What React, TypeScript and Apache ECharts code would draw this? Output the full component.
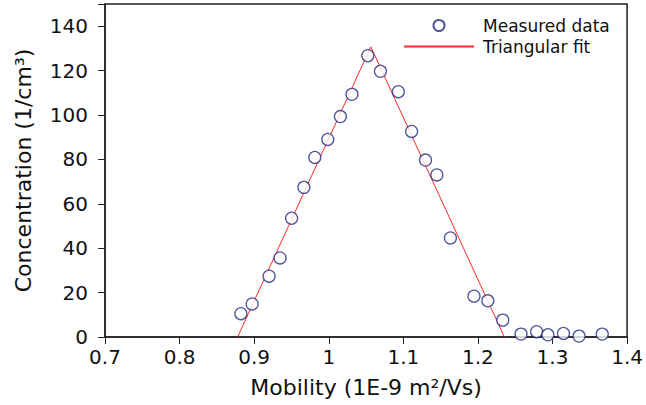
import React, { useEffect, useRef } from "react";
import * as echarts from "echarts";

const mobility = [
  0.8822, 0.8973, 0.92, 0.9347, 0.9502, 0.9667, 0.9813, 0.9987, 1.0156, 1.0311,
  1.0524, 1.0693, 1.0933, 1.1111, 1.1297, 1.1449, 1.1631, 1.1947, 1.2133, 1.2333,
  1.2578, 1.2787, 1.2938, 1.3147, 1.3356, 1.3667,
];
const concentration = [
  10.5, 14.9, 27.4, 35.6, 53.5, 67.4, 80.9, 89.0, 99.3, 109.3,
  126.7, 119.7, 110.5, 92.6, 79.7, 73.0, 44.6, 18.4, 16.3, 7.6,
  1.3, 2.4, 1.0, 1.6, 0.4, 1.3,
];
const fitX = [0.8778, 1.0564, 1.2355];
const fitY = [0, 130.7, 0];

const FONT = "DejaVu Sans";

export default function App() {
  const ref = useRef<HTMLDivElement>(null);
  useEffect(() => {
    if (!ref.current) return;
    const chart = echarts.init(ref.current, null, { renderer: "svg" });
    chart.setOption({
      animation: false,
      backgroundColor: "#fff",
      textStyle: { fontFamily: FONT },
      grid: {
        left: 105,
        right: 16,
        top: 4,
        bottom: 68,
        show: true,
        borderColor: "#222",
        borderWidth: 1.5,
        backgroundColor: "transparent",
      },
      legend: {
        orient: "vertical",
        left: 398,
        top: 12,
        itemWidth: 70,
        itemHeight: 11,
        itemGap: 4,
        textStyle: { fontFamily: FONT, fontSize: 17, color: "#111", padding: [0, 0, 0, 4] },
        data: [
          { name: "Measured data" },
          { name: "Triangular fit", itemStyle: { opacity: 0 } },
        ],
      },
      xAxis: {
        type: "value",
        min: 0.7,
        max: 1.4,
        interval: 0.1,
        name: "Mobility (1E-9 m²/Vs)",
        nameLocation: "middle",
        nameGap: 39,
        nameTextStyle: { fontFamily: FONT, fontSize: 22, color: "#111" },
        axisLine: { show: true, lineStyle: { color: "#222", width: 1.5 } },
        axisTick: { show: true, inside: false, length: 7, lineStyle: { color: "#222" } },
        axisLabel: {
          fontFamily: FONT,
          fontSize: 20,
          color: "#111",
          margin: 10,
          formatter: (v: number) => String(Math.round(v * 10) / 10),
        },
        splitLine: { show: false },
      },
      yAxis: {
        type: "value",
        min: 0,
        max: 150,
        interval: 20,
        name: "Concentration (1/cm³)",
        nameLocation: "middle",
        nameGap: 71,
        nameTextStyle: { fontFamily: FONT, fontSize: 22, color: "#111" },
        axisLine: { show: true, lineStyle: { color: "#222", width: 1.5 } },
        axisTick: { show: true, inside: false, length: 7, lineStyle: { color: "#222" } },
        axisLabel: {
          fontFamily: FONT,
          fontSize: 20,
          color: "#111",
          margin: 17,
          formatter: (v: number) => (v > 140 ? "" : String(v)),
        },
        splitLine: { show: false },
      },
      series: [
        {
          name: "Triangular fit",
          type: "line",
          data: fitX.map((x, i) => [x, fitY[i]]),
          showSymbol: false,
          symbol: "none",
          lineStyle: { color: "#ff2a2a", width: 1 },
          itemStyle: { color: "#ff2a2a" },
          z: 2,
        },
        {
          name: "Measured data",
          type: "scatter",
          data: mobility.map((x, i) => [x, concentration[i]]),
          symbol: "circle",
          symbolSize: 12,
          itemStyle: { color: "#fff", borderColor: "#262a80", borderWidth: 1.3 },
          z: 3,
        },
      ],
    });
    return () => chart.dispose();
  }, []);
  return <div ref={ref} style={{ width: 646, height: 405, position: "absolute", left: 0, top: 0 }} />;
}
